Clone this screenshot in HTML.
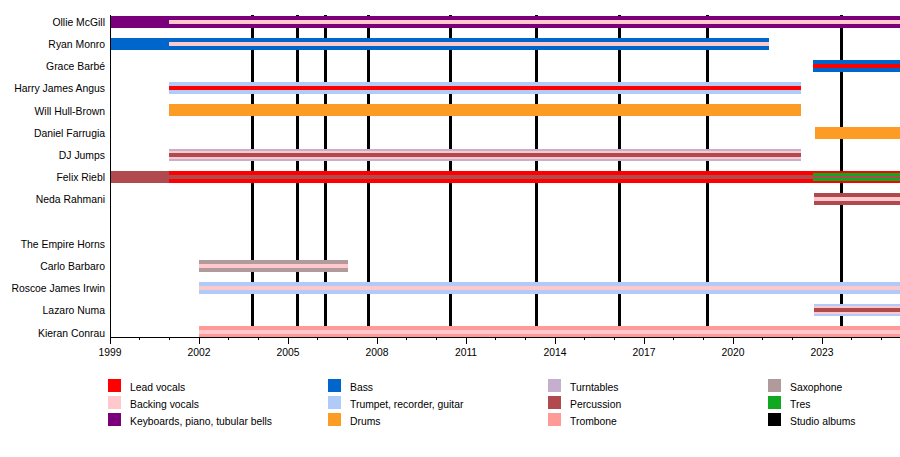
<!DOCTYPE html>
<html><head><meta charset="utf-8"><style>
html,body{margin:0;padding:0;background:#fff;}
#c{position:relative;width:900px;height:457px;overflow:hidden;background:#fff;font-family:"Liberation Sans",sans-serif;color:#000;}
#c div{position:absolute;}
.lbl{font-size:11px;white-space:nowrap;line-height:1;text-align:right;width:200px;transform:scaleX(0.945);transform-origin:100% 0;}
.yr{font-size:11px;white-space:nowrap;line-height:1;text-align:center;width:40px;transform:scaleX(0.94);transform-origin:50% 0;}
.lg{font-size:11px;white-space:nowrap;line-height:1;transform:scaleX(0.94);transform-origin:0 0;}
.sw{width:13px;height:13px;}
</style></head><body><div id="c">

<div style="left:251px;top:15px;width:3px;height:322px;background:#000"></div>
<div style="left:296px;top:15px;width:3px;height:322px;background:#000"></div>
<div style="left:324px;top:15px;width:3px;height:322px;background:#000"></div>
<div style="left:367px;top:15px;width:3px;height:322px;background:#000"></div>
<div style="left:449px;top:15px;width:3px;height:322px;background:#000"></div>
<div style="left:535px;top:15px;width:3px;height:322px;background:#000"></div>
<div style="left:618px;top:15px;width:3px;height:322px;background:#000"></div>
<div style="left:706px;top:15px;width:3px;height:322px;background:#000"></div>
<div style="left:840px;top:15px;width:3px;height:322px;background:#000"></div>
<div style="left:110px;top:16.00px;width:790px;height:12px;background:#7a007b"></div>
<div style="left:169px;top:20.00px;width:731px;height:4px;background:#ffc8cc"></div>
<div style="left:110px;top:38.00px;width:659px;height:12px;background:#0066cc"></div>
<div style="left:169px;top:42.00px;width:600px;height:4px;background:#ffc8cc"></div>
<div style="left:813px;top:60.00px;width:87px;height:12px;background:#0066cc"></div>
<div style="left:813px;top:64.00px;width:87px;height:4px;background:#ff0000"></div>
<div style="left:169px;top:82.00px;width:632px;height:12px;background:#b0cbf8"></div>
<div style="left:169px;top:86.00px;width:632px;height:4px;background:#ff0000"></div>
<div style="left:169px;top:104.00px;width:632px;height:12px;background:#fd9c24"></div>
<div style="left:815px;top:127.00px;width:85px;height:12px;background:#fd9c24"></div>
<div style="left:169px;top:149.00px;width:632px;height:12px;background:#c6aece"></div>
<div style="left:169px;top:151.00px;width:632px;height:8px;background:#ffc8cc"></div>
<div style="left:169px;top:153.00px;width:632px;height:4px;background:#b04a4e"></div>
<div style="left:110px;top:171.00px;width:59px;height:12px;background:#b04a4e"></div>
<div style="left:169px;top:171.00px;width:731px;height:12px;background:#ff0000"></div>
<div style="left:813px;top:173.00px;width:87px;height:8px;background:#10a820"></div>
<div style="left:169px;top:175.00px;width:644px;height:4px;background:#b04a4e"></div>
<div style="left:813px;top:176.00px;width:87px;height:2px;background:#b04a4e"></div>
<div style="left:814px;top:193.00px;width:86px;height:12px;background:#b04a4e"></div>
<div style="left:814px;top:197.00px;width:86px;height:4px;background:#ffc8cc"></div>
<div style="left:199px;top:260.00px;width:149px;height:12px;background:#b09a9c"></div>
<div style="left:199px;top:264.00px;width:149px;height:4px;background:#ffc8cc"></div>
<div style="left:199px;top:282.00px;width:701px;height:12px;background:#b0cbf8"></div>
<div style="left:199px;top:286.00px;width:701px;height:4px;background:#ffc8cc"></div>
<div style="left:814px;top:304.00px;width:86px;height:12px;background:#b0cbf8"></div>
<div style="left:814px;top:306.00px;width:86px;height:8px;background:#ffc8cc"></div>
<div style="left:814px;top:308.00px;width:86px;height:4px;background:#b04a4e"></div>
<div style="left:199px;top:326.00px;width:701px;height:12px;background:#ff9a98"></div>
<div style="left:199px;top:330.00px;width:701px;height:4px;background:#ffc8cc"></div>
<div style="left:110px;top:15px;width:1px;height:323px;background:#000"></div>
<div style="left:110px;top:337px;width:790px;height:1px;background:#000"></div>
<div style="left:110px;top:337px;width:1px;height:7px;background:#000"></div>
<div class="yr" style="left:90px;top:347px">1999</div>
<div style="left:139px;top:337px;width:1px;height:3px;background:#000"></div>
<div style="left:169px;top:337px;width:1px;height:3px;background:#000"></div>
<div style="left:199px;top:337px;width:1px;height:7px;background:#000"></div>
<div class="yr" style="left:179px;top:347px">2002</div>
<div style="left:228px;top:337px;width:1px;height:3px;background:#000"></div>
<div style="left:258px;top:337px;width:1px;height:3px;background:#000"></div>
<div style="left:288px;top:337px;width:1px;height:7px;background:#000"></div>
<div class="yr" style="left:268px;top:347px">2005</div>
<div style="left:317px;top:337px;width:1px;height:3px;background:#000"></div>
<div style="left:347px;top:337px;width:1px;height:3px;background:#000"></div>
<div style="left:377px;top:337px;width:1px;height:7px;background:#000"></div>
<div class="yr" style="left:357px;top:347px">2008</div>
<div style="left:406px;top:337px;width:1px;height:3px;background:#000"></div>
<div style="left:436px;top:337px;width:1px;height:3px;background:#000"></div>
<div style="left:466px;top:337px;width:1px;height:7px;background:#000"></div>
<div class="yr" style="left:446px;top:347px">2011</div>
<div style="left:495px;top:337px;width:1px;height:3px;background:#000"></div>
<div style="left:525px;top:337px;width:1px;height:3px;background:#000"></div>
<div style="left:555px;top:337px;width:1px;height:7px;background:#000"></div>
<div class="yr" style="left:535px;top:347px">2014</div>
<div style="left:584px;top:337px;width:1px;height:3px;background:#000"></div>
<div style="left:614px;top:337px;width:1px;height:3px;background:#000"></div>
<div style="left:644px;top:337px;width:1px;height:7px;background:#000"></div>
<div class="yr" style="left:624px;top:347px">2017</div>
<div style="left:673px;top:337px;width:1px;height:3px;background:#000"></div>
<div style="left:703px;top:337px;width:1px;height:3px;background:#000"></div>
<div style="left:733px;top:337px;width:1px;height:7px;background:#000"></div>
<div class="yr" style="left:713px;top:347px">2020</div>
<div style="left:762px;top:337px;width:1px;height:3px;background:#000"></div>
<div style="left:792px;top:337px;width:1px;height:3px;background:#000"></div>
<div style="left:822px;top:337px;width:1px;height:7px;background:#000"></div>
<div class="yr" style="left:802px;top:347px">2023</div>
<div style="left:851px;top:337px;width:1px;height:3px;background:#000"></div>
<div style="left:881px;top:337px;width:1px;height:3px;background:#000"></div>
<div class="lbl" style="left:-95.4px;top:17.00px">Ollie McGill</div>
<div class="lbl" style="left:-95.4px;top:39.00px">Ryan Monro</div>
<div class="lbl" style="left:-95.4px;top:61.00px">Grace Barbé</div>
<div class="lbl" style="left:-95.4px;top:83.00px">Harry James Angus</div>
<div class="lbl" style="left:-95.4px;top:106.00px">Will Hull-Brown</div>
<div class="lbl" style="left:-95.4px;top:128.00px">Daniel Farrugia</div>
<div class="lbl" style="left:-95.4px;top:150.00px">DJ Jumps</div>
<div class="lbl" style="left:-95.4px;top:172.00px">Felix Riebl</div>
<div class="lbl" style="left:-95.4px;top:194.00px">Neda Rahmani</div>
<div class="lbl" style="left:-95.4px;top:239.00px">The Empire Horns</div>
<div class="lbl" style="left:-95.4px;top:261.00px">Carlo Barbaro</div>
<div class="lbl" style="left:-95.4px;top:283.00px">Roscoe James Irwin</div>
<div class="lbl" style="left:-95.4px;top:305.00px">Lazaro Numa</div>
<div class="lbl" style="left:-95.4px;top:328.00px">Kieran Conrau</div>
<div class="sw" style="left:108px;top:379px;background:#ff0000"></div>
<div class="lg" style="left:130px;top:382px">Lead vocals</div>
<div class="sw" style="left:108px;top:396px;background:#ffc8cc"></div>
<div class="lg" style="left:130px;top:399px">Backing vocals</div>
<div class="sw" style="left:108px;top:413px;background:#7a007b"></div>
<div class="lg" style="left:130px;top:416px">Keyboards, piano, tubular bells</div>
<div class="sw" style="left:328px;top:379px;background:#0066cc"></div>
<div class="lg" style="left:350px;top:382px">Bass</div>
<div class="sw" style="left:328px;top:396px;background:#b0cbf8"></div>
<div class="lg" style="left:350px;top:399px">Trumpet, recorder, guitar</div>
<div class="sw" style="left:328px;top:413px;background:#fd9c24"></div>
<div class="lg" style="left:350px;top:416px">Drums</div>
<div class="sw" style="left:548px;top:379px;background:#c6aece"></div>
<div class="lg" style="left:570px;top:382px">Turntables</div>
<div class="sw" style="left:548px;top:396px;background:#b04a4e"></div>
<div class="lg" style="left:570px;top:399px">Percussion</div>
<div class="sw" style="left:548px;top:413px;background:#ff9a98"></div>
<div class="lg" style="left:570px;top:416px">Trombone</div>
<div class="sw" style="left:768px;top:379px;background:#b09a9c"></div>
<div class="lg" style="left:790px;top:382px">Saxophone</div>
<div class="sw" style="left:768px;top:396px;background:#10a820"></div>
<div class="lg" style="left:790px;top:399px">Tres</div>
<div class="sw" style="left:768px;top:413px;background:#000000"></div>
<div class="lg" style="left:790px;top:416px">Studio albums</div>
</div></body></html>
